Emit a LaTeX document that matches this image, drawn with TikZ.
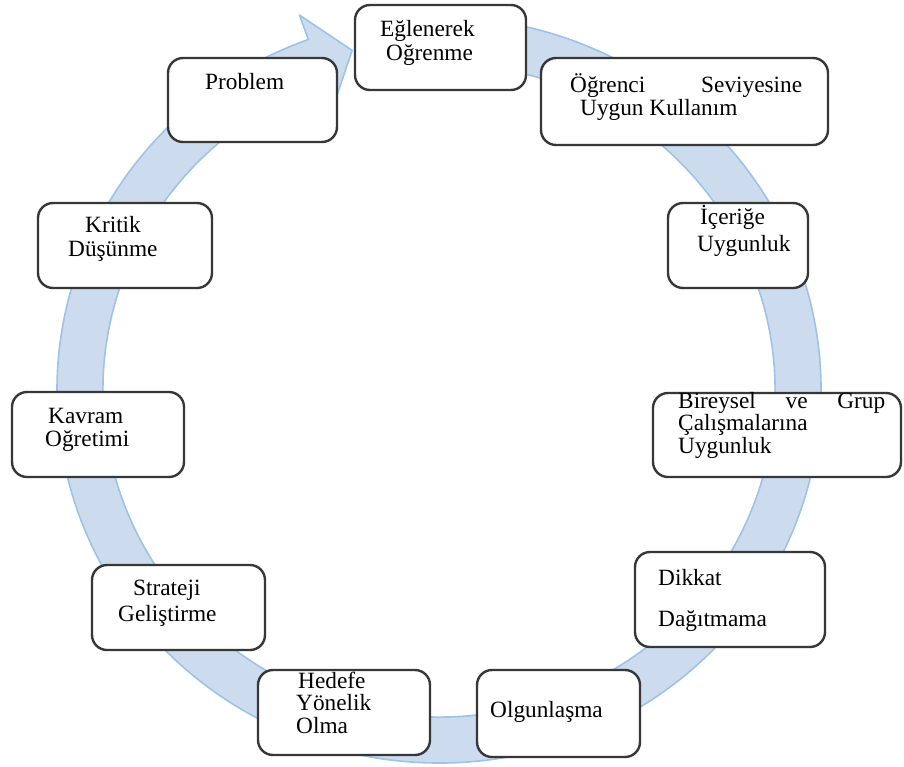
\documentclass[tikz,border=0pt]{standalone}
\usepackage{fontspec}
\setmainfont{Liberation Serif}
\usepackage{xcolor}
\usepackage{tikz}
\usetikzlibrary{positioning}

\definecolor{ringfill}{RGB}{205,219,239}
\definecolor{ringline}{RGB}{157,195,230}
\definecolor{boxline}{RGB}{55,55,55}

\begin{document}
\begin{tikzpicture}[
        x=1pt, y=-1pt,
        % Define styles
        ring/.style={fill=ringfill, draw=ringline, line width=1.6pt, line join=round},
        box/.style={draw=boxline, line width=2.4pt, fill=white, rectangle, rounded corners=15pt, minimum height=85pt},
        txt/.style={anchor=base west, align=left, inner sep=0pt, font=\fontsize{23.3}{22.5}\selectfont} % base = last line
    ]
    \useasboundingbox (0,0) rectangle (904,766);

    % --- Circular arrow ---
    \begin{scope}[shift={(439,390)}]
    \filldraw[ring] (-85:382 and 373) arc[start angle=-85, end angle=250, x radius=382, y radius=373]
        -- (250:408 and 399) -- (256:359 and 350) -- (250:310 and 301)
        -- (250:336 and 327) arc[start angle=250, end angle=-85, x radius=336, y radius=327] -- cycle;
    \end{scope}

    % --- Boxes ---
    \node[box, minimum width=171pt] (Eglenerek) at (440.5,47.5) {};
    \node[box, minimum width=287pt, minimum height=87pt] (Ogrenci) at (684.5,101.5) {};
    \node[box, minimum width=140pt] (Icerik) at (738,245.5) {};
    \node[box, minimum width=248pt, minimum height=84pt] (Bireysel) at (777,435) {};
    \node[box, minimum width=190pt, minimum height=95pt] (Dikkat) at (730,599.5) {};
    \node[box, minimum width=163pt, minimum height=87pt] (Olgunlasma) at (558.5,713.5) {};
    \node[box, minimum width=172pt] (Hedefe) at (344,712.5) {};
    \node[box, minimum width=173pt] (Strateji) at (178.5,607.5) {};
    \node[box, minimum width=172pt] (Kavram) at (98,434.5) {};
    \node[box, minimum width=174pt] (Kritik) at (125,245.5) {};
    \node[box, minimum width=169pt, minimum height=84pt] (Problem) at (252.5,100) {};

    % --- Texts ---
    \node[txt] (Eglenerek_t) at (380,60) {Eğlenerek\\[1.5pt]\hspace*{6pt}Oğrenme};
    \node[txt] (Ogrenci_t) at (570,115) {\makebox[232pt][s]{Öğrenci Seviyesine}\\\hspace*{10pt}Uygun Kullanım};
    \node[txt] (Icerik_t) at (697,251) {\hspace*{3pt}İçeriğe\\[4pt]Uygunluk};
    \node[txt] (Bireysel_t) at (678,453) {\makebox[207pt][s]{Bireysel ve Grup}\\Çalışmalarına\\Uygunluk};
    \node[txt] (Dikkat_t) at (658,626) {Dikkat\\[18.5pt]Dağıtmama};
    \node[txt] (Olgunlasma_t) at (490,717) {Olgunlaşma};
    \node[txt] (Hedefe_t) at (296,733) {\hspace*{2pt}Hedefe\\Yönelik\\Olma};
    \node[txt] (Strateji_t) at (118,621) {\hspace*{15pt}Strateji\\[3.5pt]Geliştirme};
    \node[txt] (Kavram_t) at (45,446) {\hspace*{3pt}Kavram\\Oğretimi};
    \node[txt] (Kritik_t) at (68,256) {\hspace*{17pt}Kritik\\[1.5pt]Düşünme};
    \node[txt] (Problem_t) at (205,89) {Problem};

\end{tikzpicture}
\end{document}
